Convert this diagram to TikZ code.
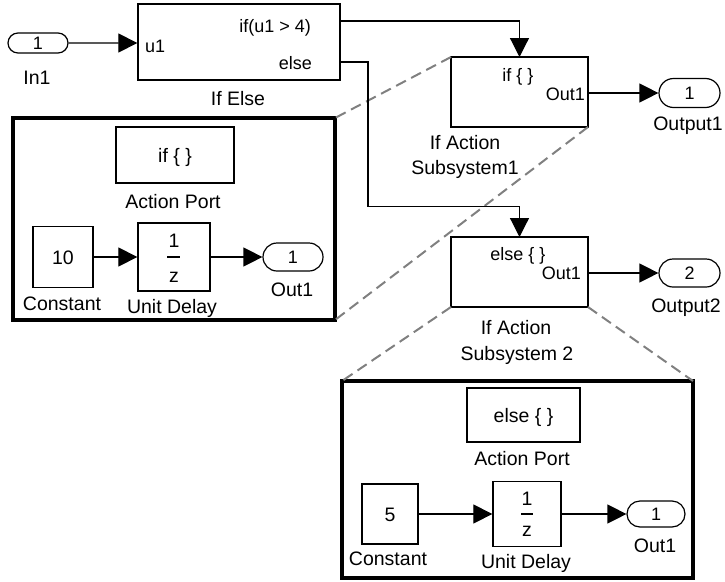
\documentclass[tikz,border=0pt]{standalone}
\usepackage{fontspec}
\setmainfont{Liberation Sans}
\usetikzlibrary{arrows.meta,shapes.misc}
\newcommand\labfont{\fontsize{19.5}{22}\selectfont}
\newcommand\portfont{\fontsize{18}{21}\selectfont}
\begin{document}
\begin{tikzpicture}[x=1pt,y=-1pt,
  blk/.style={draw, line width=1.3pt, inner sep=0, fill=white, font=\labfont, text height=14pt, text depth=0pt},
  pill/.style={draw, rounded rectangle, line width=1.2pt, inner sep=0, fill=white, font=\portfont, text height=13pt, text depth=0pt},
  lab/.style={inner sep=0, font=\labfont, text height=14pt, text depth=0pt},
  plab/.style={inner sep=0, font=\portfont, text height=13pt, text depth=0pt},
  wire/.style={line width=1.2pt},
  arr/.style={wire, -{Triangle[length=19pt,width=19pt]}},
  zoomline/.style={draw=black!50, line width=2pt, dash pattern=on 11pt off 6pt},
  panel/.style={draw, line width=3.2pt, inner sep=0, outer sep=0}]
\useasboundingbox (0,0) rectangle (725,581);

% zoom panels
\node[panel, minimum width=322pt, minimum height=202pt] (panelL) at (174,219) {};
\node[panel, minimum width=351pt, minimum height=197pt] (panelB) at (517.5,479.5) {};

% main blocks
\node[pill, minimum width=60pt, minimum height=20pt] (in1) at (38,43) {1};
\node[blk, minimum width=202pt, minimum height=76pt] (ifelse) at (239,42) {};
\node[blk, minimum width=137pt, minimum height=70pt, outer sep=0] (sub1) at (519.5,92) {};
\node[blk, minimum width=137pt, minimum height=70pt, outer sep=0] (sub2) at (519.5,272) {};
\node[pill, minimum width=61pt, minimum height=29pt] (out1) at (689.5,93) {1};
\node[pill, minimum width=61pt, minimum height=28pt] (out2) at (689.5,273) {2};

% zoom lines
\draw[zoomline] (sub1.north west) -- (panelL.north east);
\draw[zoomline] (sub1.south east) -- (panelL.south east);
\draw[zoomline] (sub2.south west) -- (panelB.north west);
\draw[zoomline] (sub2.south east) -- (panelB.north east);

% labels of main blocks
\node[lab] (lin1) at (37,77) {In1};
\node[lab] (lifelse) at (238,98) {If Else};
\node[plab, anchor=east] (pif) at (311,26) {if(u1 > 4)};
\node[plab, anchor=east] (pelse) at (312,63) {else};
\node[plab, anchor=west] (pu1) at (145,46) {u1};
\node[plab] (psub1a) at (518,75) {if \{ \}};
\node[plab, anchor=east] (psub1b) at (585,94) {Out1};
\node[lab] (lout1) at (688,123) {Output1};
\node[lab] (lsub1a) at (465,142) {If Action};
\node[lab] (lsub1b) at (465,167) {Subsystem1};
\node[plab] (psub2a) at (518,254) {else \{ \}};
\node[plab, anchor=east] (psub2b) at (581,273) {Out1};
\node[lab] (lout2) at (686,305) {Output2};
\node[lab] (lsub2a) at (516,327) {If Action};
\node[lab] (lsub2b) at (517,353) {Subsystem 2};

% ports
\coordinate (ifport) at (339.5,21);
\coordinate (elseport) at (339.5,62);
\coordinate (elsebend) at (368,206.5);

% connectors
\draw[arr] (in1) -- (in1 -| ifelse.west);
\draw[arr] (ifport) -| (sub1.north);
\draw[arr] (elseport) -| (elsebend) -| (sub2.north);
\draw[arr] (sub1.east |- out1) -- (out1.west);
\draw[arr] (sub2.east |- out2) -- (out2.west);

% left panel contents
\node[blk, minimum width=118pt, minimum height=56pt] (apL) at (175,155) {if \{ \}};
\node[lab] (lapL) at (173,201) {Action Port};
\node[blk, minimum width=60pt, minimum height=61pt] (cL) at (63,257) {10};
\node[blk, minimum width=72pt, minimum height=68pt] (udL) at (174,257) {};
\node[pill, minimum width=60pt, minimum height=28pt] (oL) at (293,257) {1};
\node[lab] (udL1) at (174,240) {1};
\node[lab] (udLz) at (174,275) {z};
\draw[wire] (167,257) -- (180,257);
\node[lab] (lcL) at (62,303) {Constant};
\node[lab] (ludL) at (172,306) {Unit Delay};
\node[lab] (loL) at (292,289) {Out1};
\draw[arr] (cL) -- (udL);
\draw[arr] (udL) -- (oL);

% bottom panel contents
\node[blk, minimum width=113pt, minimum height=54pt] (apB) at (523.5,415) {else \{ \}};
\node[lab] (lapB) at (522,458) {Action Port};
\node[blk, minimum width=56pt, minimum height=60pt] (cB) at (390,514) {5};
\node[blk, minimum width=68pt, minimum height=65pt] (udB) at (527,514) {};
\node[pill, minimum width=58pt, minimum height=26pt] (oB) at (656,514) {1};
\node[lab] (udB1) at (527,498) {1};
\node[lab] (udBz) at (527,529) {z};
\draw[wire] (521,514) -- (533,514);
\node[lab] (lcB) at (388,558) {Constant};
\node[lab] (ludB) at (526,561) {Unit Delay};
\node[lab] (loB) at (655,545) {Out1};
\draw[arr] (cB) -- (udB);
\draw[arr] (udB) -- (oB);
\end{tikzpicture}
\end{document}
